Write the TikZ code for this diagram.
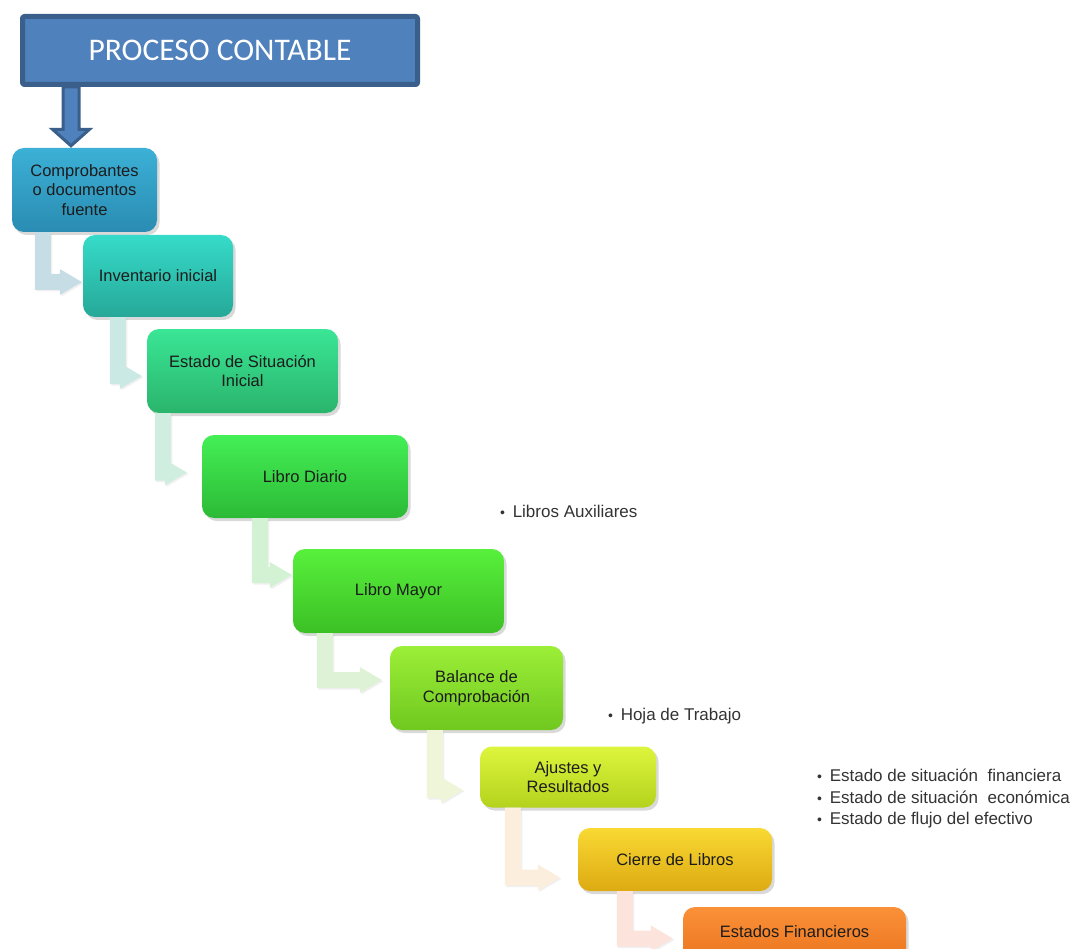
\documentclass[tikz,border=0pt]{standalone}
\usepackage{fontspec}
\setmainfont{Liberation Sans}
\newfontfamily\titlefont{Carlito}
\usepackage{tikz}
\usetikzlibrary{calc,shadows}
\definecolor{tituloazul}{HTML}{4F81BD}
\definecolor{bordeazul}{HTML}{3A5F8B}
\definecolor{texto}{HTML}{1C1C1C}
\definecolor{cAa}{HTML}{3CB0D6}\definecolor{cAb}{HTML}{2A8CB2}
\definecolor{cBa}{HTML}{36DBC9}\definecolor{cBb}{HTML}{26A898}
\definecolor{cCa}{HTML}{3AE695}\definecolor{cCb}{HTML}{2AB46C}
\definecolor{cDa}{HTML}{44EF55}\definecolor{cDb}{HTML}{2CBA36}
\definecolor{cEa}{HTML}{58F03C}\definecolor{cEb}{HTML}{3CC025}
\definecolor{cFa}{HTML}{9CEF38}\definecolor{cFb}{HTML}{70C81F}
\definecolor{cGa}{HTML}{DDF53C}\definecolor{cGb}{HTML}{B4D21D}
\definecolor{cHa}{HTML}{F9D933}\definecolor{cHb}{HTML}{DDAA12}
\definecolor{cIa}{HTML}{FA9138}\definecolor{cIb}{HTML}{E8701B}
\definecolor{fA}{HTML}{C6DDE6}
\definecolor{fB}{HTML}{CAE9E4}
\definecolor{fC}{HTML}{D0EEE0}
\definecolor{fD}{HTML}{D3F2D3}
\definecolor{fE}{HTML}{DEF2D6}
\definecolor{fF}{HTML}{EFF5D8}
\definecolor{fG}{HTML}{FBEEDC}
\definecolor{fH}{HTML}{FCE3DB}
\newcommand{\bul}{{\fontsize{14}{14}\selectfont\textbullet}\hspace{0.45em}}
% flecha en L: desde, hacia, desplazamiento x, desplazamiento y, hueco, color
\newcommand{\bentarrow}[6]{%
\fill[#6,drop shadow={opacity=0.12,shadow xshift=1.5pt,shadow yshift=-1.5pt}]
 let \p1=($(#1.south west)+(#3,0)$), \p2=($(#2.west)+(-#5,#4)$) in
 (\x1,\y1) -- (\x1+16pt,\y1) -- (\x1+16pt,\y2+8pt) -- (\x2-22pt,\y2+8pt)
 -- (\x2-22pt,\y2+13pt) -- (\x2,\y2) -- (\x2-22pt,\y2-13pt) -- (\x2-22pt,\y2-8pt)
 -- (\x1,\y2-8pt) -- cycle;}

\begin{document}
\begin{tikzpicture}[line cap=round,line join=round,x=1pt,y=-1pt,
 stepbox/.style={rounded corners=12pt,inner sep=0pt,align=center,text=texto,
  font=\fontsize{16.5}{19.5}\selectfont,
  drop shadow={opacity=0.3,shadow xshift=2.5pt,shadow yshift=-3pt}},
 titlebox/.style={fill=tituloazul,draw=bordeazul,line width=5pt,rounded corners=2pt,
  minimum width=395pt,minimum height=68pt,text=white,font=\titlefont\fontsize{31.5}{36}\selectfont,
  drop shadow={opacity=0.25,shadow xshift=2pt,shadow yshift=-2pt}},
 note/.style={anchor=west,inner sep=0pt,align=left,text=texto!90,font=\fontsize{17}{21.5}\selectfont}]

\useasboundingbox (0,0) rectangle (1078,949);
\clip (0,0) rectangle (1078,949);

\node[titlebox] (titulo) at (220,50.5) {PROCESO CONTABLE};

\node[stepbox,top color=cAa,bottom color=cAb,minimum width=145pt,minimum height=84pt] (b1) at (84.5,190) {Comprobantes\\o documentos\\fuente};
\node[stepbox,top color=cBa,bottom color=cBb,minimum width=150pt,minimum height=82pt] (b2) at (158,276) {Inventario inicial};
\node[stepbox,top color=cCa,bottom color=cCb,minimum width=191pt,minimum height=84pt] (b3) at (242.5,371) {Estado de Situación\\Inicial};
\node[stepbox,top color=cDa,bottom color=cDb,minimum width=206pt,minimum height=83pt] (b4) at (305,476.5) {Libro Diario};
\node[stepbox,top color=cEa,bottom color=cEb,minimum width=211pt,minimum height=84pt] (b5) at (398.5,591) {Libro Mayor};
\node[stepbox,top color=cFa,bottom color=cFb,minimum width=173pt,minimum height=84pt] (b6) at (476.5,688) {Balance de\\Comprobación};
\node[stepbox,top color=cGa,bottom color=cGb,minimum width=176pt,minimum height=61pt] (b7) at (568,777) {Ajustes y\\Resultados};
\node[stepbox,top color=cHa,bottom color=cHb,minimum width=194pt,minimum height=63pt] (b8) at (675,859.5) {Cierre de Libros};
\node[stepbox,top color=cIa,bottom color=cIb,minimum width=223pt,minimum height=63pt,text depth=0pt] (b9) at (794.5,938.5) {\raisebox{13pt}{Estados Financieros}};

% flecha del titulo
\filldraw[fill=tituloazul,draw=bordeazul,line width=3pt,line join=miter]
 let \p1=($(titulo.south west)+(51,0)$), \p2=(b1.north) in
 (\x1-8pt,\y1) -- (\x1+8pt,\y1) -- (\x1+8pt,\y2+18.5pt) -- (\x1+18.5pt,\y2+18.5pt)
 -- (\x1,\y2+2pt) -- (\x1-18.5pt,\y2+18.5pt) -- (\x1-8pt,\y2+18.5pt) -- cycle;

\bentarrow{b1}{b2}{23}{6}{1}{fA}
\bentarrow{b2}{b3}{27}{5}{5}{fB}
\bentarrow{b3}{b4}{8}{-4}{15}{fC}
\bentarrow{b4}{b5}{50}{-16}{1}{fD}
\bentarrow{b5}{b6}{24}{-8}{8}{fE}
\bentarrow{b6}{b7}{37}{13}{17}{fF}
\bentarrow{b7}{b8}{25}{18}{18}{fG}
\bentarrow{b8}{b9}{39}{0}{10}{fH}

\node[note] (aux) at (500,511) {\bul Libros Auxiliares};
\node[note] (hoja) at (608,716) {\bul Hoja de Trabajo};
\node[note] (eeff) at (817,798.5) {\bul Estado de situación\ \ financiera\\\bul Estado de situación\ \ económica\\\bul Estado de flujo del efectivo};

\end{tikzpicture}
\end{document}
